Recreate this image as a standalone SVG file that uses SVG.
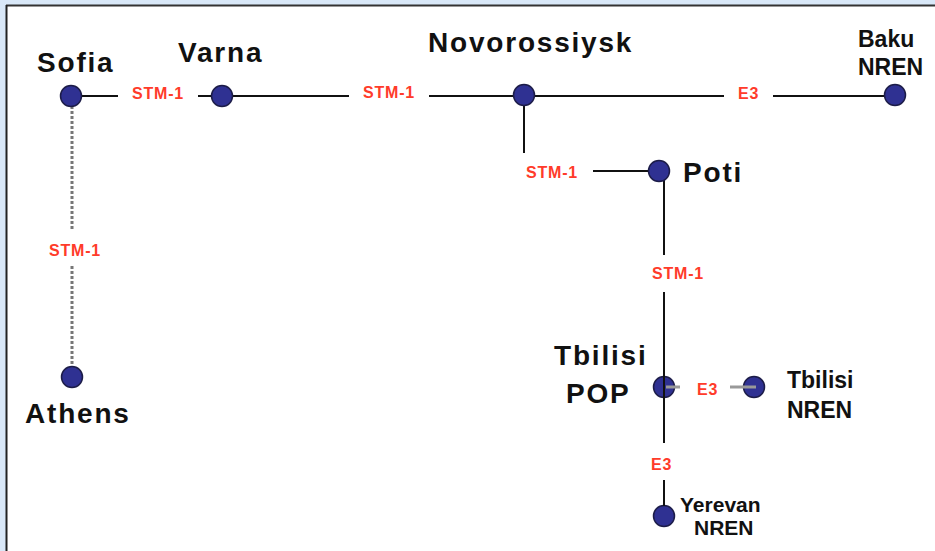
<svg xmlns="http://www.w3.org/2000/svg" width="935" height="551" viewBox="0 0 935 551">
<style>
.node{fill:#2f3192;stroke:#1c1c48;stroke-width:1.5}
.big{font-family:"Liberation Sans",Arial,sans-serif;font-weight:bold;font-size:28px;letter-spacing:1.8px;fill:#111}
.mid{font-family:"Liberation Sans",Arial,sans-serif;font-weight:bold;font-size:23px;fill:#111}
.sm{font-family:"Liberation Sans",Arial,sans-serif;font-weight:bold;font-size:21px;fill:#111}
.lbl{font-family:"Liberation Sans",Arial,sans-serif;font-weight:bold;font-size:16px;letter-spacing:0.8px;fill:#ff3b2a}
.ln{stroke:#111;stroke-width:2;fill:none}
.gl{stroke:#999;stroke-width:3;fill:none}
.dl{stroke:#777;stroke-width:3;stroke-dasharray:3 2;fill:none}
</style>
<rect x="0" y="0" width="935" height="551" fill="#d9e8f8"/>
<rect x="7" y="6" width="928" height="545" fill="#ffffff"/>
<line x1="6" y1="5.5" x2="935" y2="5.5" stroke="#333" stroke-width="2"/>
<line x1="6.5" y1="5" x2="6.5" y2="551" stroke="#222" stroke-width="2"/>
<g id="connectors">
<path class="ln" d="M71 96H118M198 96H222"/>
<path class="ln" d="M222 96H349M429 96H524"/>
<path class="ln" d="M524 96H724M773 96H895"/>
<path class="ln" d="M524 96V153M593 171H659"/>
<path class="ln" d="M664 171V255M664 292V387"/>
<path class="dl" d="M72 96V231M72 266V377"/>
</g>
<g id="sofia"><circle class="node" cx="71" cy="96" r="10.5"/><text class="big" x="37" y="72">Sofia</text></g>
<g id="varna"><circle class="node" cx="222" cy="96" r="10.5"/><text class="big" x="178" y="62">Varna</text></g>
<g id="novorossiysk"><circle class="node" cx="524" cy="95" r="10.5"/><text class="big" x="428" y="52">Novorossiysk</text></g>
<g id="baku"><circle class="node" cx="895" cy="95" r="10.5"/><text class="mid" x="858" y="47">Baku</text><text class="mid" x="858" y="75">NREN</text></g>
<g id="poti"><circle class="node" cx="659" cy="171" r="10.5"/><text class="big" x="683" y="182">Poti</text></g>
<g id="athens"><circle class="node" cx="72" cy="377" r="10.5"/><text class="big" x="25" y="423">Athens</text></g>
<g id="tbilisi-pop"><circle class="node" cx="664" cy="387" r="10.5"/><text class="big" x="554" y="365">Tbilisi</text><text class="big" x="566" y="403">POP</text></g>
<g id="tbilisi-nren"><circle class="node" cx="754" cy="387" r="10.5"/><text class="mid" x="787" y="388">Tbilisi</text><text class="mid" x="787" y="418">NREN</text></g>
<g id="yerevan"><circle class="node" cx="664" cy="516" r="10.5"/><text class="sm" x="680" y="512">Yerevan</text><text class="sm" x="694" y="535">NREN</text></g>
<g id="connectors-top">
<path class="ln" d="M664 371V443M664 480V506"/>
<path class="gl" d="M666 387H680M730 387H756"/>
</g>
<g id="labels">
<text class="lbl" x="132" y="99">STM-1</text>
<text class="lbl" x="363" y="98">STM-1</text>
<text class="lbl" x="738" y="99">E3</text>
<text class="lbl" x="526" y="178">STM-1</text>
<text class="lbl" x="652" y="279">STM-1</text>
<text class="lbl" x="697" y="395">E3</text>
<text class="lbl" x="651" y="470">E3</text>
<text class="lbl" x="49" y="256">STM-1</text>
</g>
</svg>
